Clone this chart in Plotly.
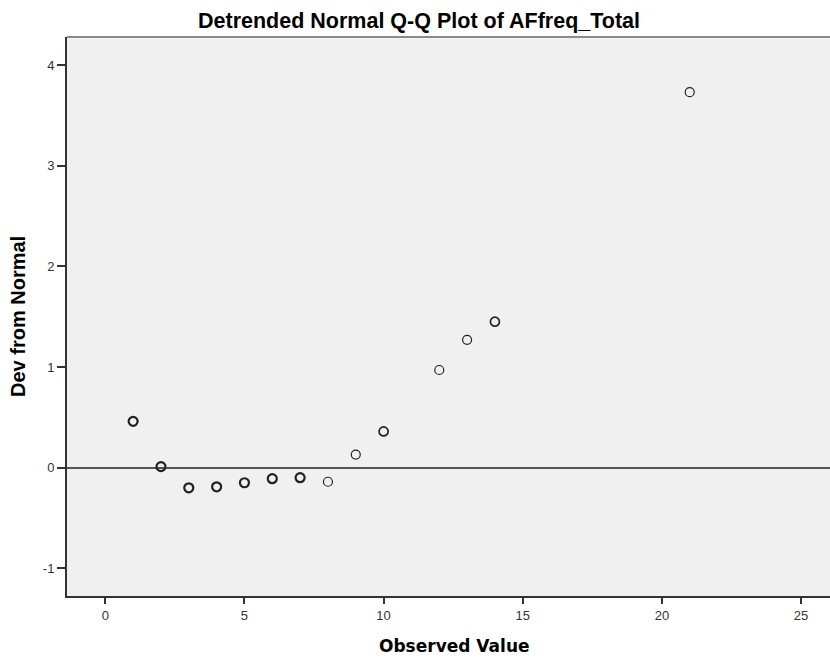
import plotly.graph_objects as go

observed = [1, 2, 3, 4, 5, 6, 7, 8, 9, 10, 12, 13, 14, 21]
dev_from_normal = [0.46, 0.01, -0.20, -0.19, -0.15, -0.11, -0.10, -0.14, 0.13, 0.36, 0.97, 1.27, 1.45, 3.73]
# overlapping (repeated) observations draw a heavier outline
repeats = [3, 3, 3, 3, 3, 3, 3, 1, 1, 2, 1, 1, 2, 1]

x_ticks = [0, 5, 10, 15, 20, 25]
y_ticks = [-1, 0, 1, 2, 3, 4]

font_family = "Liberation Sans, Arial, sans-serif"
W, H = 830, 662
ML, MR, MT, MB = 67, 0, 37, 66
PW, PH = W - ML - MR, H - MT - MB

fig = go.Figure()
fig.add_trace(go.Scatter(
    x=observed, y=dev_from_normal, mode="markers",
    marker=dict(symbol="circle-open", size=9, color="#222222",
                line=dict(width=[1.2 + 0.5 * (r - 1) for r in repeats], color="#222222")),
    showlegend=False, hoverinfo="x+y",
))

fig.update_layout(
    width=W, height=H,
    margin=dict(l=ML, r=MR, t=MT, b=MB),
    paper_bgcolor="white", plot_bgcolor="#f0f0f0",
    title=dict(text="<b>Detrended Normal Q-Q Plot of AFfreq_Total</b>",
               x=419 / W, xanchor="center", y=1 - 20 / H, yanchor="middle",
               font=dict(family=font_family, size=21.5, color="#000000")),
    font=dict(family=font_family, size=13, color="#333333"),
    shapes=[dict(type="line", xref="paper", yref="paper", x0=0, x1=1, y0=1, y1=1,
                 line=dict(color="#8a8a8a", width=2))],
    annotations=[
        dict(text="<b>Observed Value</b>", xref="paper", yref="paper",
             x=(454 - ML) / PW, y=-(646 - (H - MB)) / PH, xanchor="center", yanchor="middle",
             showarrow=False, font=dict(family="DejaVu Sans, Tahoma, sans-serif", size=17, color="#000000")),
        dict(text="<b>Dev from Normal</b>", xref="paper", yref="paper",
             x=-(ML - 17.5) / PW, y=0.5, xanchor="center", yanchor="middle", textangle=-90,
             showarrow=False, font=dict(family=font_family, size=20, color="#000000")),
    ],
)
fig.update_xaxes(
    range=[-1.376, 26.04], tickvals=x_ticks, ticktext=[str(v) for v in x_ticks],
    showgrid=False, zeroline=False, showline=True, linecolor="#333333", linewidth=2,
    ticks="outside", ticklen=6, tickwidth=2, tickcolor="#333333",
    tickfont=dict(size=13, color="#333333"),
)
fig.update_yaxes(
    range=[-1.275, 4.278], tickvals=y_ticks, ticktext=[str(v) for v in y_ticks],
    showgrid=False, zeroline=True, zerolinecolor="#555555", zerolinewidth=2,
    showline=True, linecolor="#333333", linewidth=2,
    ticks="outside", ticklen=8, tickwidth=2, tickcolor="#333333",
    tickfont=dict(size=13, color="#333333"),
)

fig.write_html("out.html")
